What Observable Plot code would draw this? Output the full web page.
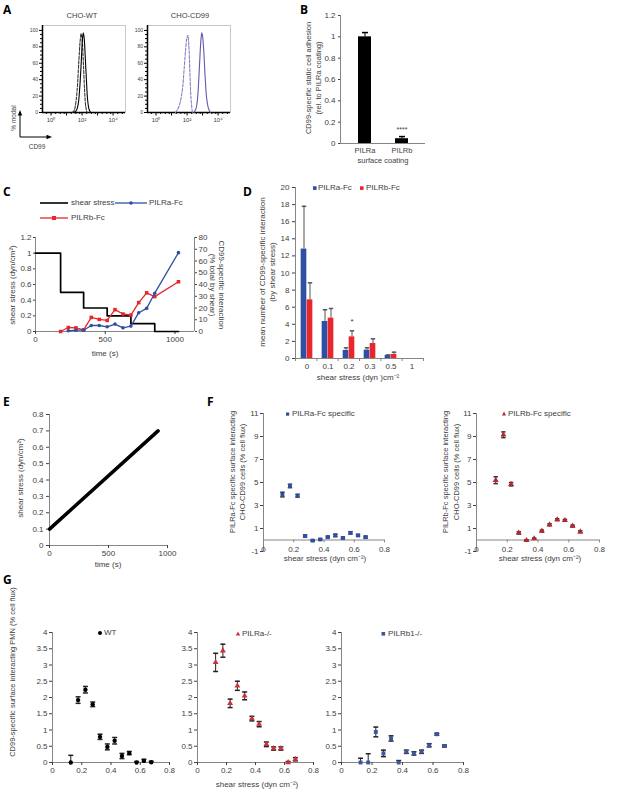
<!DOCTYPE html>
<html><head><meta charset="utf-8">
<script src="https://cdn.jsdelivr.net/npm/d3@7"></script>
<script src="https://cdn.jsdelivr.net/npm/@observablehq/plot@0.6"></script>
<style>
html,body{margin:0;padding:0;background:#fff;}
#root{position:relative;width:617px;height:792px;overflow:hidden;background:#fff;font-family:'Liberation Sans',Arial,sans-serif;color:#404040;}
.t{position:absolute;white-space:nowrap;line-height:1;transform-origin:0 0;}
.lab{position:absolute;font-family:'Open Sans','Liberation Sans',sans-serif;font-weight:700;font-size:12px;color:#000;line-height:1.1;}
</style></head>
<body><div id="root"></div>
<script>
// ================= DATA =================
// A: flow cytometry histograms (x = log10 fluorescence, y = % of max)
const aWtIsoX = [1.38,1.5,1.6,1.7,1.8,1.88,1.94,2.0,2.08,2.16,2.24,2.32];
const aWtIsoY = [0,3,12,32,65,88,96,90,62,28,7,0];
const aWtCdX = [1.5,1.65,1.75,1.85,1.95,2.02,2.08,2.14,2.2,2.28,2.36,2.45,2.55];
const aWtCdY = [0,3,10,30,62,88,97,90,70,40,15,4,0];
const aCdIsoX = [1.25,1.4,1.55,1.7,1.8,1.9,1.98,2.05,2.12,2.18,2.25,2.34];
const aCdIsoY = [0,4,12,28,50,75,90,94,80,50,18,0];
const aCdCdX = [2.45,2.58,2.68,2.76,2.84,2.9,2.95,3.0,3.08,3.16,3.26,3.38,3.5];
const aCdCdY = [0,5,18,42,72,90,97,93,74,45,18,5,0];
const aYTicks = [0,20,40,60,80,100];
const aYMinor = [5,10,15,25,30,35,45,50,55,65,70,75,85,90,95];
const aXTicks = [0,1,2,3,4];
const aXLabels = ["10\u2070","","10\u00B2","","10\u2074"];

// B: static adhesion
const bCats = ["PILRa","PILRb"];
const bVal = [1.0, 0.045];
const bErr = [0.04, 0.02];
const bSig = ["", "****"];
const bYTicks = [0,0.2,0.4,0.6,0.8,1,1.2];

// C: time course
const cStepT = [0,180,345,514,684,855,1025];
const cStress = [1,0.5,0.3,0.2,0.1,0,0];
const cRedT = [180,235,290,345,400,457,514,570,627,684,740,797,855,1025];
const cRedV = [0,3.4,3.1,1.4,12,10.3,9.4,18.6,14.9,14,24.6,32.9,29.7,42.3];
const cBlueT = [235,290,345,400,457,514,570,627,684,740,797,855,1025];
const cBlueV = [0.6,1.1,1.1,5.1,5.1,4,6.3,3.1,4.6,16,19.7,32.6,67.1];
const cLeftTicks = [0,0.2,0.4,0.6,0.8,1,1.2];
const cRightTicks = [0,10,20,30,40,50,60,70,80];
const cTimeTicks = [0,500,1000];

// D: bars by shear stress
const dCats = ["0","0.1","0.2","0.3","0.5","1"];
const dA = [12.8,4.33,0.94,0.98,0.35,0];
const dAErr = [5.0,1.37,0.31,0.27,0.07,0];
const dB = [6.86,4.72,2.53,1.75,0.47,0];
const dBErr = [1.99,1.13,0.71,0.55,0.27,0];
const dSig = ["","","*","","",""];
const dYTicks = [0,2,4,6,8,10,12,14,16,18,20];
const dBounds = [0,1,2,3,4,5,6];

// E: linear ramp
const eTime = [0, 920];
const eStress = [0.1, 0.7];
const eYTicks = [0,0.1,0.2,0.3,0.4,0.5,0.6,0.7,0.8];
const eXTicks = [0,500,1000];

// F: CHO-CD99 on PILR-Fc
const fX = [0.125,0.175,0.225,0.275,0.325,0.375,0.425,0.475,0.525,0.575,0.625,0.675];
const fAY = [3.95,4.7,3.85,0.35,-0.05,0.05,0.25,0.4,0.18,0.62,0.4,0.25];
const fAE = [0.2,0.15,0.12,0.1,0.05,0.05,0.08,0.1,0.08,0.1,0.08,0.08];
const fBY = [5.2,9.15,4.85,0.62,-0.03,0.12,0.78,1.33,1.77,1.71,1.22,0.72];
const fBE = [0.3,0.25,0.15,0.1,0.05,0.05,0.08,0.08,0.08,0.08,0.08,0.08];
const fYTicks = [-1,1,3,5,7,9,11];
const fXTicks = [0,0.2,0.4,0.6,0.8];

// G: PMN
const gX = [0.125,0.175,0.225,0.275,0.325,0.375,0.425,0.475,0.525,0.575,0.625,0.675];
const gWtY = [0,1.92,2.24,1.79,0.79,0.48,0.67,0.2,0.29,0,0.05,0.01];
const gWtE = [0.22,0.1,0.1,0.07,0.08,0.09,0.1,0.08,0.05,0.03,0.05,0.03];
const gPaY = [3.08,3.44,1.82,2.36,2.05,1.35,1.18,0.56,0.43,0.43,0,0.1];
const gPaE = [0.28,0.2,0.13,0.14,0.12,0.07,0.08,0.07,0.05,0.05,0.03,0.05];
const gPbY = [0,0,0.94,0.28,0.74,0,0.33,0.28,0.33,0.53,0.87,0.51];
const gPbE = [0.13,0.27,0.15,0.1,0.08,0.06,0.05,0.05,0.05,0.05,0.03,0.03];
const gYTicks = [0,0.5,1,1.5,2,2.5,3,3.5,4];
const gXTicks = [0,0.2,0.4,0.6,0.8];

// ================= HELPERS =================
const root = document.getElementById("root");
const FONT = "'Liberation Sans', Arial, Helvetica, sans-serif";
const TXT = "#404040", AX = "#868686";
const BLUE = "#2f4fa2", RED = "#e8262b", DRED = "#b3282e", GRED = "#cc3038", GBLUE = "#3b55a3";
const M = 40;
const capSym = { draw(ctx, size) { const w = Math.sqrt(size / Math.PI); ctx.moveTo(-w, 0); ctx.lineTo(w, 0); } };

function mk(box, scales, marks) {
  const w = box.x1 - box.x0, h = box.y1 - box.y0;
  const svg = Plot.plot({
    width: w + 2 * M, height: h + 2 * M,
    marginLeft: M, marginRight: M, marginTop: M, marginBottom: M,
    style: `background:transparent;overflow:visible;font-family:${FONT};font-size:8px;color:${TXT};`,
    ...scales,
    marks
  });
  Object.assign(svg.style, {position: "absolute", left: (box.x0 - M) + "px", top: (box.y0 - M) + "px", maxWidth: "none"});
  root.appendChild(svg);
  return svg;
}
function txt(x, y, s, o = {}) {
  const d = document.createElement("div");
  d.className = "t";
  d.textContent = s;
  d.style.left = x + "px"; d.style.top = y + "px";
  d.style.fontSize = (o.size || 8) + "px";
  d.style.color = o.color || TXT;
  const ax = o.anchor === "start" ? "0" : o.anchor === "end" ? "-100%" : "-50%";
  d.style.transform = `rotate(${o.rot || 0}deg) translate(${ax},-50%)`;
  root.appendChild(d);
}
function lab(x, y, s) {
  const d = document.createElement("div");
  d.className = "lab"; d.textContent = s;
  d.style.left = x + "px"; d.style.top = y + "px";
  root.appendChild(d);
}
const S = v => String(v);

// ================= PANEL A =================
function histPanel(box, curves) {
  mk(box, {x: {domain: [-0.55, 4.8], axis: null}, y: {domain: [0, 106], axis: null}}, [
    Plot.frame({stroke: "#c8c8c8"}),
    Plot.axisY({ticks: aYMinor, tickSize: 2, tickFormat: () => "", stroke: "#000", label: null}),
    Plot.axisY({ticks: aYTicks, tickSize: 3, tickPadding: 1.5, tickFormat: S, fontSize: 5, stroke: "#000", label: null}),
    Plot.axisX({ticks: aXTicks, tickSize: 3.5, tickPadding: 2, tickFormat: d => aXLabels[aXTicks.indexOf(d)], fontSize: 6, stroke: "#000", label: null}),
    Plot.axisX({ticks: [-0.3,0.3,0.6,0.85,1.3,1.6,1.85,2.3,2.6,2.85,3.3,3.6,3.85,4.3,4.6], tickSize: 2, tickFormat: () => "", stroke: "#000", label: null}),
    Plot.ruleX([-0.55], {stroke: "#000", strokeWidth: 1.5}),
    Plot.ruleY([0], {stroke: "#000", strokeWidth: 1.5}),
    ...curves.map(c => Plot.line(c.x.map((_, i) => i), {x: i => c.x[i], y: i => c.y[i], stroke: c.color, strokeWidth: 1.1, strokeDasharray: c.dash, curve: "catmull-rom"}))
  ]);
}
histPanel({x0: 42, x1: 125, y0: 25, y1: 112}, [
  {x: aWtIsoX, y: aWtIsoY, color: "#333", dash: "3,1.5"},
  {x: aWtCdX, y: aWtCdY, color: "#000", dash: null}
]);
histPanel({x0: 147, x1: 230, y0: 25, y1: 112}, [
  {x: aCdIsoX, y: aCdIsoY, color: "#8a7fc4", dash: "3,1.5"},
  {x: aCdCdX, y: aCdCdY, color: "#6656ad", dash: null}
]);
lab(3, 3, "A");
txt(82, 16, "CHO-WT", {size: 7.5});
txt(190, 16, "CHO-CD99", {size: 7.5});
txt(14, 118, "% modal", {size: 6.5, rot: -90});
txt(37, 147, "CD99", {size: 6.5});

// ================= PANEL B =================
const bIdx = bCats.map((_, i) => i);
const bBox = {x0: 340, x1: 425, y0: 15, y1: 143};
mk(bBox, {x: {type: "band", domain: bCats, paddingInner: 0.65, paddingOuter: 0.45, axis: null}, y: {domain: [0, 1.2], axis: null}}, [
  Plot.barY(bIdx, {x: i => bCats[i], y: i => bVal[i], fill: "#000"}),
  Plot.ruleX(bIdx, {x: i => bCats[i], y1: i => bVal[i], y2: i => bVal[i] + bErr[i], stroke: "#000"}),
  Plot.dot(bIdx, {x: i => bCats[i], y: i => bVal[i] + bErr[i], symbol: capSym, r: 3, stroke: "#000", fill: "none"}),
  Plot.text(bIdx, {x: i => bCats[i], y: i => bVal[i] + bErr[i], text: i => bSig[i], dy: -7, fontSize: 7}),
  Plot.axisY({ticks: bYTicks, tickFormat: S, tickSize: 2, tickPadding: 3, label: null}),
  Plot.axisX({tickSize: 0, tickPadding: 4, fontSize: 7.5, label: null})
]);
mk(bBox, {x: {domain: [0, 1], axis: null}, y: {domain: [0, 1], axis: null}}, [
  Plot.ruleX([0], {stroke: AX}), Plot.ruleY([0], {stroke: AX})
]);
lab(300, 3, "B");
txt(309, 78, "CD99-specific static cell adhesion", {size: 7.5, rot: -90});
txt(319, 78, "(rel. to PILRa coating)", {size: 7.5, rot: -90});
txt(383, 161, "surface coating", {size: 7.5});

// ================= PANEL C =================
const cBox = {x0: 35, x1: 194, y0: 237, y1: 331};
mk(cBox, {x: {domain: [0, 1140], axis: null}, y: {domain: [0, 1.2], axis: null}}, [
  Plot.ruleX([0], {stroke: AX}), Plot.ruleX([1140], {stroke: AX}), Plot.ruleY([0], {stroke: AX}),
  Plot.axisY({ticks: cLeftTicks, tickFormat: S, tickSize: 2, tickPadding: 2, label: null}),
  Plot.axisX({ticks: cTimeTicks, tickFormat: S, tickSize: 3, tickPadding: 2, label: null}),
  Plot.line(cStepT.map((_, i) => i), {x: i => cStepT[i], y: i => cStress[i], curve: "step-after", stroke: "#000", strokeWidth: 1.7})
]);
mk(cBox, {x: {domain: [0, 1140], axis: null}, y: {domain: [0, 80], axis: null}}, [
  Plot.axisY({anchor: "right", ticks: cRightTicks, tickFormat: S, tickSize: 2, tickPadding: 2, label: null}),
  Plot.line(cRedT.map((_, i) => i), {x: i => cRedT[i], y: i => cRedV[i], stroke: RED, strokeWidth: 1.3}),
  Plot.dot(cRedT.map((_, i) => i), {x: i => cRedT[i], y: i => cRedV[i], symbol: "square", r: 2, fill: RED}),
  Plot.line(cBlueT.map((_, i) => i), {x: i => cBlueT[i], y: i => cBlueV[i], stroke: BLUE, strokeWidth: 1.3}),
  Plot.dot(cBlueT.map((_, i) => i), {x: i => cBlueT[i], y: i => cBlueV[i], r: 1.8, fill: BLUE})
]);
lab(3, 185, "C");
txt(71, 203, "shear stress", {anchor: "start"});
txt(149, 203, "PILRa-Fc", {anchor: "start"});
txt(71, 218, "PILRb-Fc", {anchor: "start"});
txt(13, 285, "shear stress (dyn/cm\u00B2)", {rot: -90});
txt(221, 285, "CD99-specific interaction", {rot: 90});
txt(212, 285, "(% total by shear)", {rot: 90});
txt(105, 354, "time (s)");

// ================= PANEL D =================
const dBox = {x0: 295, x1: 423, y0: 187, y1: 358};
const bw = (dBox.x1 - dBox.x0) / dCats.length;
const dIdxA = dCats.map((_, i) => i).filter(i => dA[i] > 0);
const dIdxB = dCats.map((_, i) => i).filter(i => dB[i] > 0);
mk(dBox, {x: {type: "band", domain: dCats, padding: 0, axis: null}, y: {domain: [0, 20], axis: null}}, [
  Plot.barY(dIdxA, {x: i => dCats[i], y: i => dA[i], fill: BLUE, insetLeft: bw / 2 - 6, insetRight: bw / 2}),
  Plot.barY(dIdxB, {x: i => dCats[i], y: i => dB[i], fill: RED, insetLeft: bw / 2, insetRight: bw / 2 - 6}),
  Plot.ruleX(dIdxA, {x: i => dCats[i], y1: i => dA[i], y2: i => dA[i] + dAErr[i], dx: -3, stroke: "#555"}),
  Plot.dot(dIdxA, {x: i => dCats[i], y: i => dA[i] + dAErr[i], dx: -3, symbol: capSym, r: 2.2, stroke: "#555", fill: "none"}),
  Plot.ruleX(dIdxB, {x: i => dCats[i], y1: i => dB[i], y2: i => dB[i] + dBErr[i], dx: 3, stroke: "#555"}),
  Plot.dot(dIdxB, {x: i => dCats[i], y: i => dB[i] + dBErr[i], dx: 3, symbol: capSym, r: 2.2, stroke: "#555", fill: "none"}),
  Plot.text(dIdxB, {x: i => dCats[i], y: i => dB[i] + dBErr[i], text: i => dSig[i], dx: 3, dy: -9, fontSize: 8}),
  Plot.axisY({ticks: dYTicks, tickFormat: S, tickSize: 3, tickPadding: 3, label: null}),
  Plot.axisX({tickSize: 0, tickPadding: 5, label: null})
]);
mk(dBox, {x: {domain: [0, 6], axis: null}, y: {domain: [0, dBox.y1 - dBox.y0], axis: null}}, [
  Plot.ruleX([0], {stroke: AX}), Plot.ruleY([0], {stroke: AX}),
  Plot.ruleX(dBounds, {x: d => d, y1: 0, y2: -3, stroke: AX})
]);
lab(243, 185, "D");
txt(318, 188, "PILRa-Fc", {anchor: "start"});
txt(366, 188, "PILRb-Fc", {anchor: "start"});
txt(263, 272, "mean number of CD99-specific interaction", {rot: -90});
txt(273, 272, "(by shear stress)", {rot: -90});
txt(358, 378, "shear stress (dyn )cm\u207B\u00B2");

// ================= PANEL E =================
mk({x0: 49, x1: 167, y0: 414, y1: 545}, {x: {domain: [0, 1000], axis: null}, y: {domain: [0, 0.8], axis: null}}, [
  Plot.ruleX([0], {stroke: AX}), Plot.ruleY([0], {stroke: AX}),
  Plot.axisY({ticks: eYTicks, tickFormat: S, tickSize: 3, tickPadding: 3, label: null}),
  Plot.axisX({ticks: eXTicks, tickFormat: S, tickSize: 3, tickPadding: 2, label: null}),
  Plot.line(eTime.map((_, i) => i), {x: i => eTime[i], y: i => eStress[i], stroke: "#000", strokeWidth: 3.5})
]);
lab(3, 395, "E");
txt(21, 478, "shear stress (dyn/cm\u00B2)", {rot: -90});
txt(108, 565, "time (s)");

// ================= PANEL F =================
function fPanel(box, ys, es, color, symbol) {
  const idx = fX.map((_, i) => i);
  mk(box, {x: {domain: [0, 0.8], axis: null}, y: {domain: [-1, 11], axis: null}}, [
    Plot.ruleX([0], {stroke: AX}), Plot.ruleY([0], {stroke: AX}),
    Plot.ruleX(fXTicks, {x: d => d, y1: 0, y2: -0.25, stroke: AX}),
    Plot.axisY({ticks: fYTicks, tickFormat: S, tickSize: 3, tickPadding: 2, label: null}),
    Plot.text(fXTicks, {x: d => d, text: S, frameAnchor: "bottom", lineAnchor: "middle", dy: -2, fill: TXT}),
    Plot.ruleX(idx, {x: i => fX[i], y1: i => ys[i] - es[i], y2: i => ys[i] + es[i], stroke: "#333"}),
    Plot.dot(idx, {x: i => fX[i], y: i => ys[i] + es[i], symbol: capSym, r: 2.2, stroke: "#333", fill: "none"}),
    Plot.dot(idx, {x: i => fX[i], y: i => ys[i] - es[i], symbol: capSym, r: 2.2, stroke: "#333", fill: "none"}),
    Plot.dot(idx, {x: i => fX[i], y: i => ys[i], symbol, r: 2.2, fill: color, stroke: "none"})
  ]);
}
fPanel({x0: 263, x1: 384, y0: 412.5, y1: 550.5}, fAY, fAE, BLUE, "square");
fPanel({x0: 476, x1: 599, y0: 412.5, y1: 550.5}, fBY, fBE, DRED, "triangle");
lab(207, 395, "F");
txt(292, 414, "PILRa-Fc specific", {anchor: "start"});
txt(508, 414, "PILRb-Fc specific", {anchor: "start"});
txt(233, 472, "PILRa-Fc specific surface interacting", {size: 7.5, rot: -90});
txt(243, 472, "CHO-CD99 cells (% cell flux)", {size: 7.5, rot: -90});
txt(446, 472, "PILRb-Fc specific surface interacting", {size: 7.5, rot: -90});
txt(457, 472, "CHO-CD99 cells (% cell flux)", {size: 7.5, rot: -90});
txt(325, 559, "shear stress (dyn cm\u207B\u00B2)");
txt(540, 559, "shear stress (dyn cm\u207B\u00B2)");

// ================= PANEL G =================
function gPanel(box, ys, es, color, symbol) {
  const idx = gX.map((_, i) => i);
  mk(box, {x: {domain: [0, 0.8], axis: null}, y: {domain: [0, 4], axis: null}}, [
    Plot.ruleX([0], {stroke: AX}), Plot.ruleY([0], {stroke: AX}),
    Plot.axisY({ticks: gYTicks, tickFormat: S, tickSize: 3, tickPadding: 2, label: null}),
    Plot.axisX({ticks: gXTicks, tickFormat: S, tickSize: 3, tickPadding: 2, label: null}),
    Plot.ruleX(idx, {x: i => gX[i], y1: i => ys[i] - es[i], y2: i => ys[i] + es[i], stroke: "#222", clip: true}),
    Plot.dot(idx, {x: i => gX[i], y: i => ys[i] + es[i], symbol: capSym, r: 2.5, stroke: "#222", fill: "none", clip: true}),
    Plot.dot(idx, {x: i => gX[i], y: i => ys[i] - es[i], symbol: capSym, r: 2.5, stroke: "#222", fill: "none", clip: true}),
    Plot.dot(idx, {x: i => gX[i], y: i => ys[i], symbol, r: 2.2, fill: color, stroke: "none"})
  ]);
}
gPanel({x0: 52, x1: 169, y0: 632, y1: 762}, gWtY, gWtE, "#000", "circle");
gPanel({x0: 197, x1: 313, y0: 632, y1: 762}, gPaY, gPaE, GRED, "triangle");
gPanel({x0: 341, x1: 463, y0: 632, y1: 762}, gPbY, gPbE, GBLUE, "square");
lab(3, 573, "G");
txt(104, 633, "WT", {anchor: "start"});
txt(242, 634, "PILRa-/-", {anchor: "start"});
txt(388, 634, "PILRb1-/-", {anchor: "start"});
txt(13, 672, "CD99-specific surface interacting PMN (% cell flux)", {size: 7.5, rot: -90});
txt(257, 785, "shear stress (dyn cm\u207B\u00B2)");

// ================= DECORATIONS (legend swatches, arrows) =================
const deco = document.createElement("div");
deco.style.cssText = "position:absolute;left:0;top:0;width:617px;height:792px;pointer-events:none;";
deco.innerHTML = `<svg width="617" height="792" style="overflow:visible">
  <line x1="20" y1="137" x2="20" y2="114" stroke="#000" stroke-width="1"/>
  <polygon points="20,110 17.8,115.5 22.2,115.5" fill="#000"/>
  <line x1="20" y1="137" x2="48" y2="137" stroke="#000" stroke-width="1"/>
  <polygon points="52,137 46.5,134.8 46.5,139.2" fill="#000"/>
  <line x1="40" y1="203" x2="68" y2="203" stroke="#000" stroke-width="1.6"/>
  <line x1="115" y1="203" x2="147" y2="203" stroke="${BLUE}" stroke-width="1.3"/>
  <circle cx="131" cy="203" r="1.8" fill="${BLUE}"/>
  <line x1="40" y1="218" x2="68" y2="218" stroke="${RED}" stroke-width="1.3"/>
  <rect x="52" y="216" width="4" height="4" fill="${RED}"/>
  <rect x="313" y="186.3" width="3.6" height="3.6" fill="${BLUE}"/>
  <rect x="360" y="186.3" width="3.6" height="3.6" fill="${RED}"/>
  <rect x="286" y="412.5" width="3.2" height="3.2" fill="${BLUE}"/>
  <polygon points="504,411.5 502,415.5 506,415.5" fill="${DRED}"/>
  <circle cx="100" cy="633" r="2" fill="#000"/>
  <polygon points="238,631.5 235.8,635.5 240.2,635.5" fill="${GRED}"/>
  <rect x="381.5" y="632" width="3.6" height="3.6" fill="${GBLUE}"/>
</svg>`;
root.appendChild(deco);
</script></body></html>
